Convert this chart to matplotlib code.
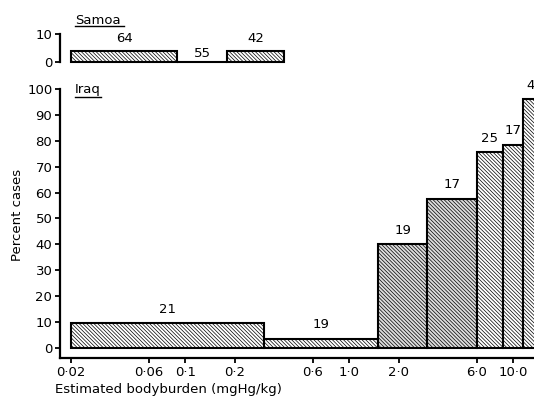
import numpy as np
import matplotlib
matplotlib.use("Agg")
import matplotlib.pyplot as plt
from matplotlib.lines import Line2D

# datos
iraq_edges = [0.02, 0.3, 1.5, 3.0, 6.0, 8.7, 11.5, 16.0]
iraq_pct = [9.5, 3.5, 40, 57.5, 75.5, 78.5, 96]
iraq_n = ["21", "19", "19", "17", "25", "17", "41"]
iraq_gray = [False, False, True, True, False, False, False]

samoa_edges = [0.02, 0.089, 0.18, 0.40]
samoa_pct = [4, 0, 4]
samoa_n = ["64", "55", "42"]

xticks = [0.02, 0.06, 0.1, 0.2, 0.6, 1.0, 2.0, 6.0, 10.0]
xticklabels = ["0·02", "0·06", "0·1", "0·2", "0·6", "1·0", "2·0", "6·0", "10·0"]

plt.rcParams['font.family'] = ['DejaVu Sans']
plt.rcParams['hatch.linewidth'] = 0.5
fs = 9.5
hatch = "\\" * 9

W, H = 534, 397
fig = plt.figure(figsize=(W / 100, H / 100), dpi=100)

# ejes en pixeles -> fraccion de figura
def box(x0, y_top, x1, y_bot):
    return [x0 / W, 1 - y_bot / H, (x1 - x0) / W, (y_bot - y_top) / H]

xmin = 10 ** (np.log10(0.02) - 11 / 163.8)
xmax = 10 ** (np.log10(0.02) + 463 / 163.8)

# ---- Iraq ----
ax = fig.add_axes(box(60, 89, 534, 358))
for i in range(len(iraq_pct)):
    l, r = iraq_edges[i], iraq_edges[i + 1]
    fc = "#dcdcdc" if iraq_gray[i] else "white"
    ax.bar(l, iraq_pct[i], width=r - l, align="edge", facecolor=fc,
           edgecolor="black", linewidth=1.5, hatch=hatch)
    ax.text(np.sqrt(l * r), iraq_pct[i] + 3, iraq_n[i], ha="center",
            va="bottom", fontsize=fs)
ax.set_xscale("log")
ax.set_xlim(xmin, xmax)
ax.set_ylim(-3.9, 100)
ax.set_yticks(range(0, 101, 10))
ax.set_xticks(xticks)
ax.set_xticklabels(xticklabels)
ax.minorticks_off()
ax.tick_params(axis="both", labelsize=fs, width=1.3, length=3.5, pad=2)
ax.spines["top"].set_visible(False)
ax.spines["right"].set_visible(False)
ax.spines["left"].set_linewidth(1.6)
ax.spines["bottom"].set_linewidth(1.6)
ax.patch.set_alpha(0)

# ---- Samoa ----
ax2 = fig.add_axes(box(60, 34, 534, 64))
for i in range(len(samoa_pct)):
    l, r = samoa_edges[i], samoa_edges[i + 1]
    ax2.bar(l, samoa_pct[i], width=r - l, align="edge", facecolor="white",
            edgecolor="black", linewidth=1.5, hatch=hatch)
    off = 2 if samoa_pct[i] > 0 else 0.6
    ax2.text(np.sqrt(l * r), samoa_pct[i] + off, samoa_n[i], ha="center",
             va="bottom", fontsize=fs)
ax2.set_xscale("log")
ax2.set_xlim(xmin, xmax)
ax2.set_ylim(-0.7, 10)
ax2.set_yticks([0, 10])
ax2.tick_params(axis="y", labelsize=fs, width=1.3, length=3.5, pad=2)
ax2.tick_params(axis="x", which="both", bottom=False, labelbottom=False)
for s in ["top", "right", "bottom"]:
    ax2.spines[s].set_visible(False)
ax2.spines["left"].set_bounds(0, 10)
ax2.spines["left"].set_linewidth(1.6)
ax2.patch.set_alpha(0)

# titulos subrayados
fig.text(75 / W, 1 - 20 / H, "Samoa", fontsize=fs, va="center", ha="left")
fig.add_artist(Line2D([75 / W, 124 / W], [1 - 26 / H, 1 - 26 / H],
                      color="black", linewidth=1.0))
fig.text(75 / W, 1 - 90 / H, "Iraq", fontsize=fs, va="center", ha="left")
fig.add_artist(Line2D([75 / W, 101 / W], [1 - 97 / H, 1 - 97 / H],
                      color="black", linewidth=1.0))

fig.text(18 / W, 1 - 215 / H, "Percent cases", rotation=90, fontsize=fs,
         va="center", ha="center")
fig.text(55 / W, 1 - 389 / H, "Estimated bodyburden (mgHg/kg)", fontsize=fs,
         va="center", ha="left")

fig.savefig("out.png", dpi=100)
